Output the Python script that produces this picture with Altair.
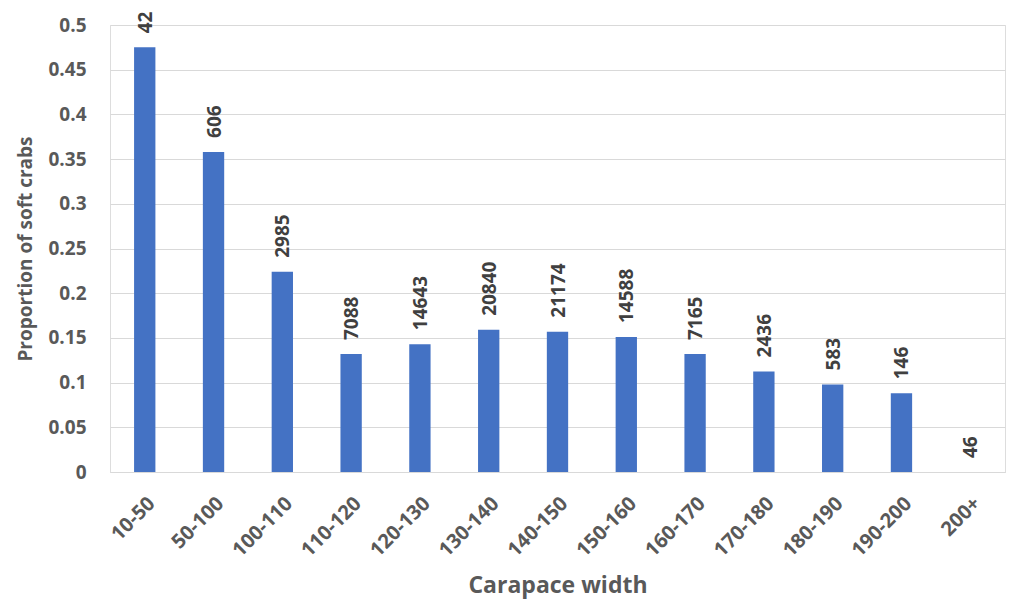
import altair as alt
import pandas as pd

categories = ["10-50", "50-100", "100-110", "110-120", "120-130", "130-140", "140-150",
              "150-160", "160-170", "170-180", "180-190", "190-200", "200+"]
proportions = [0.475, 0.358, 0.224, 0.132, 0.143, 0.159, 0.157, 0.151, 0.132, 0.1125, 0.098, 0.088, 0.0]
counts = ["42", "606", "2985", "7088", "14643", "20840", "21174", "14588", "7165", "2436", "583", "146", "46"]

df = pd.DataFrame({"width": categories, "prop": proportions, "n": counts})

FONT = "Open Sans"
GRAY = "#595959"

x = alt.X("width:N", sort=categories, title="Carapace width",
          scale=alt.Scale(paddingInner=0.69, paddingOuter=0.35),
          axis=alt.Axis(labelAngle=-45, labelAlign="right", labelBaseline="top",
                        labelFontSize=20, labelFontWeight="bold", labelColor=GRAY, labelFont=FONT,
                        labelPadding=21,
                        titleFont=FONT, titleFontSize=23, titleColor=GRAY, titleFontWeight="bold",
                        titlePadding=14, ticks=False, domain=True, domainColor="#d9d9d9"))
y = alt.Y("prop:Q", title="Proportion of soft crabs",
          scale=alt.Scale(domain=[0, 0.5], nice=False),
          axis=alt.Axis(values=[i * 0.05 for i in range(11)], format="~g", labelFontSize=19,
                        labelFontWeight="bold", labelColor=GRAY, labelFont=FONT, labelPadding=24,
                        titleFont=FONT, titleFontSize=19, titleFontWeight="bold", titleColor=GRAY,
                        titlePadding=12, ticks=False, domain=False,
                        gridColor="#d9d9d9", gridWidth=1))

bars = alt.Chart(df).mark_bar(color="#4472C4").encode(x=x, y=y)
labels = alt.Chart(df).mark_text(angle=270, align="left", baseline="middle", dx=14, dy=1,
                                 font=FONT, fontSize=19, fontWeight="bold", color="#404040").encode(
    x=alt.X("width:N", sort=categories), y="prop:Q", text="n:N")

chart = (bars + labels).properties(
    width=895, height=447,
    autosize=alt.AutoSizeParams(type="none"),
    padding={"left": 110, "top": 25, "right": 5, "bottom": 129},
).configure_view(stroke=None).configure(background="white")

chart.save("out.html", embed_options={"renderer": "svg", "actions": False})
